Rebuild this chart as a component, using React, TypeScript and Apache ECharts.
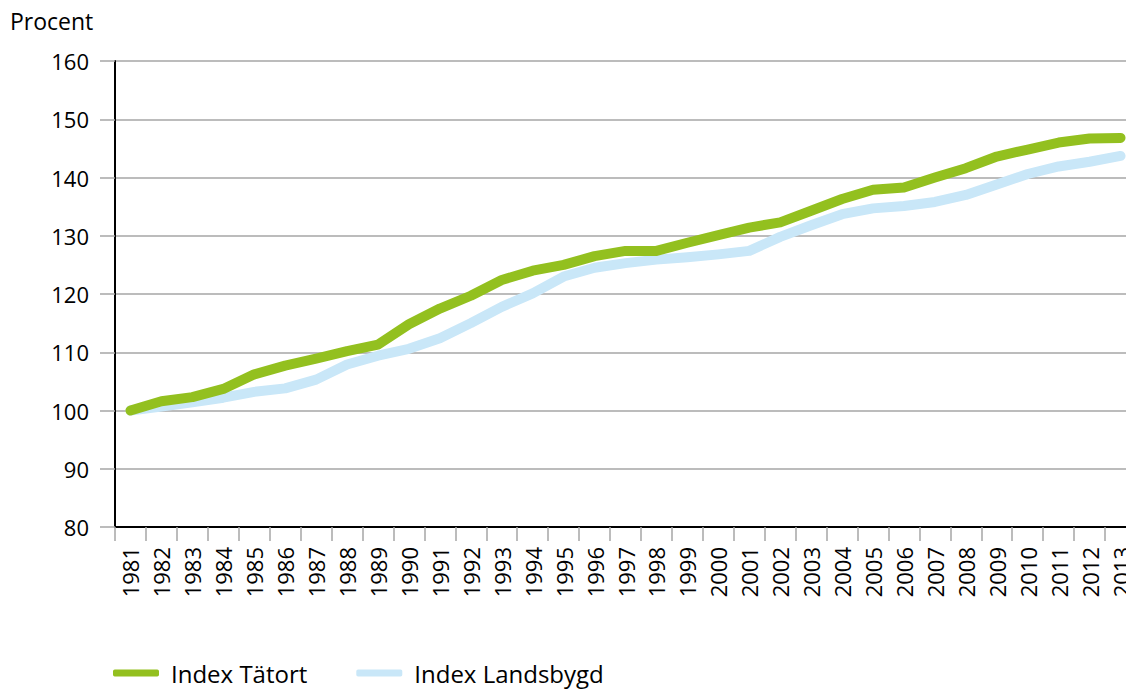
import React, { useEffect, useRef } from "react";
import * as echarts from "echarts";

const years = [
  "1981","1982","1983","1984","1985","1986","1987","1988","1989","1990","1991",
  "1992","1993","1994","1995","1996","1997","1998","1999","2000","2001","2002",
  "2003","2004","2005","2006","2007","2008","2009","2010","2011","2012","2013",
];

const tatort = [
  100, 101.6, 102.3, 103.7, 106.2, 107.7, 108.9, 110.2, 111.3, 114.8, 117.5,
  119.7, 122.4, 124.0, 125.0, 126.5, 127.4, 127.4, 128.8, 130.1, 131.4, 132.3,
  134.3, 136.3, 137.9, 138.3, 140.0, 141.6, 143.6, 144.8, 146.0, 146.7, 146.8,
];

const landsbygd = [
  100, 100.7, 101.4, 102.2, 103.2, 103.8, 105.3, 107.9, 109.4, 110.6, 112.4,
  115.0, 117.8, 120.1, 123.0, 124.5, 125.3, 125.9, 126.3, 126.8, 127.4, 129.8,
  131.8, 133.7, 134.7, 135.1, 135.8, 137.0, 138.8, 140.6, 141.9, 142.7, 143.7,
];

const seriesNames = ["Index Tätort", "Index Landsbygd"];
const FONT = "'Open Sans', 'Noto Sans', sans-serif";

export default function App() {
  const ref = useRef<HTMLDivElement>(null);
  useEffect(() => {
    if (!ref.current) return;
    const chart = echarts.init(ref.current, null, { renderer: "svg" });
    chart.setOption({
      animation: false,
      backgroundColor: "#ffffff",
      textStyle: { fontFamily: FONT },
      graphic: [
        {
          type: "text",
          left: 10,
          top: 9,
          style: { text: "Procent", fontSize: 23, fill: "#000", fontFamily: FONT },
        },
      ],
      legend: {
        data: seriesNames,
        left: 108,
        top: 656,
        icon: "roundRect",
        itemWidth: 46,
        itemHeight: 7,
        itemGap: 49,
        textStyle: { fontSize: 24, color: "#000", fontFamily: FONT, padding: [0, 0, 0, 7] },
      },
      grid: { left: 115, top: 61, right: 0, bottom: 162, containLabel: false },
      xAxis: {
        type: "category",
        data: years,
        boundaryGap: true,
        axisLine: { lineStyle: { color: "#000", width: 2 } },
        axisTick: { show: true, length: 14, lineStyle: { color: "#A6A6A6", width: 1.5 } },
        axisLabel: { rotate: 90, fontSize: 22, color: "#000", margin: 20, interval: 0, fontFamily: FONT },
        splitLine: { show: false },
      },
      yAxis: {
        type: "value",
        min: 80,
        max: 160,
        interval: 10,
        axisLine: { show: true, lineStyle: { color: "#000", width: 2 } },
        axisTick: { show: true, length: 15, lineStyle: { color: "#A6A6A6", width: 1.5 } },
        axisLabel: { fontSize: 22, color: "#000", margin: 26, fontFamily: FONT },
        splitLine: { show: true, lineStyle: { color: "#A6A6A6", width: 1.5 } },
      },
      series: [
        {
          name: seriesNames[1],
          type: "line",
          data: landsbygd,
          showSymbol: false,
          z: 2,
          color: "#C9E7F8",
          lineStyle: { width: 10, color: "#C9E7F8", cap: "round", join: "round" },
        },
        {
          name: seriesNames[0],
          type: "line",
          data: tatort,
          showSymbol: false,
          z: 3,
          color: "#93C01F",
          lineStyle: { width: 10, color: "#93C01F", cap: "round", join: "round" },
        },
      ],
    });
    return () => chart.dispose();
  }, []);
  return (
    <div style={{ position: "absolute", left: 0, top: 0, width: 1126, height: 689, overflow: "hidden" }}>
      <div ref={ref} style={{ width: 1136, height: 689 }} />
    </div>
  );
}
